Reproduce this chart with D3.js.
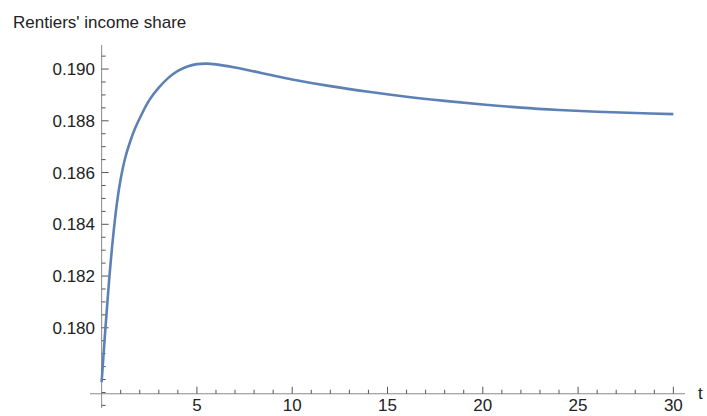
<!DOCTYPE html>
<html>
<head>
<meta charset="utf-8">
<script src="https://cdn.jsdelivr.net/npm/d3@7"></script>
<style>
  html, body { margin: 0; padding: 0; background: #fff; }
  svg { display: block; }
  text { font-family: "Liberation Sans", Arial, sans-serif; }
</style>
</head>
<body>
<svg id="chart" width="707" height="416"></svg>
<script>
// Data
const tValues = [0, 0.2, 0.4, 0.6, 0.8, 1.0, 1.25, 1.5, 1.75, 2.0, 2.5, 3.0, 3.5, 4.0, 4.5, 5.0, 5.5, 6.0, 7.0, 8.0, 9.0, 10, 12, 14, 16, 18, 20, 22, 24, 26, 28, 30];
const shareValues = [0.1779, 0.1800, 0.1819, 0.1835, 0.1848, 0.18575, 0.1866, 0.1872, 0.1877, 0.1881, 0.1888, 0.18928, 0.18966, 0.18993, 0.19010, 0.19019, 0.19021, 0.19018, 0.19006, 0.18991, 0.18975, 0.18960, 0.18934, 0.18912, 0.18893, 0.18877, 0.18863, 0.18851, 0.18842, 0.18835, 0.18830, 0.18826];
const xMajorTicks = [5, 10, 15, 20, 25, 30];
const xMinorTicks = d3.range(1, 31).filter(d => d % 5 !== 0);
const yMajorTicks = [0.180, 0.182, 0.184, 0.186, 0.188, 0.190];
const yMinorTicks = d3.range(0, 28).map(i => +(0.177 + i * 0.0005).toFixed(4)).filter(v => !yMajorTicks.some(m => Math.abs(m - v) < 1e-9) && v <= 0.1905);
const yTitle = "Rentiers' income share";
const xTitle = "t";

const data = tValues.map((t, i) => ({ t, v: shareValues[i] }));

const svg = d3.select("#chart");

const x = d3.scaleLinear().domain([-0.61, 30.61]).range([90, 685]);
const y = d3.scaleLinear().domain([0.1769, 0.19093]).range([408, 45]);
const axisY = 0.17745; // where the horizontal axis crosses

const axisColor = "#8a8a8a";
const tickColor = "#555";
const fs = 17;

// Horizontal axis line
svg.append("line")
  .attr("x1", x(-0.61)).attr("x2", x(30.61))
  .attr("y1", y(axisY)).attr("y2", y(axisY))
  .attr("stroke", axisColor).attr("stroke-width", 1);

// Vertical axis line
svg.append("line")
  .attr("x1", x(0)).attr("x2", x(0))
  .attr("y1", y(0.19093)).attr("y2", y(0.1769))
  .attr("stroke", axisColor).attr("stroke-width", 1);

// X ticks (pointing up)
svg.append("g").selectAll("line").data(xMajorTicks).join("line")
  .attr("x1", d => x(d)).attr("x2", d => x(d))
  .attr("y1", y(axisY)).attr("y2", y(axisY) - 7)
  .attr("stroke", tickColor).attr("stroke-width", 1);
svg.append("g").selectAll("line").data(xMinorTicks).join("line")
  .attr("x1", d => x(d)).attr("x2", d => x(d))
  .attr("y1", y(axisY)).attr("y2", y(axisY) - 4)
  .attr("stroke", tickColor).attr("stroke-width", 1);

// X tick labels
svg.append("g").selectAll("text").data(xMajorTicks).join("text")
  .attr("x", d => x(d)).attr("y", 411)
  .attr("text-anchor", "middle")
  .attr("font-size", fs).attr("fill", "#222")
  .text(d => d);

// Y ticks (pointing right)
svg.append("g").selectAll("line").data(yMajorTicks).join("line")
  .attr("x1", x(0)).attr("x2", x(0) + 7)
  .attr("y1", d => y(d)).attr("y2", d => y(d))
  .attr("stroke", tickColor).attr("stroke-width", 1);
svg.append("g").selectAll("line").data(yMinorTicks).join("line")
  .attr("x1", x(0)).attr("x2", x(0) + 4)
  .attr("y1", d => y(d)).attr("y2", d => y(d))
  .attr("stroke", tickColor).attr("stroke-width", 1);

// Y tick labels
svg.append("g").selectAll("text").data(yMajorTicks).join("text")
  .attr("x", 95).attr("y", d => y(d))
  .attr("dy", "0.35em")
  .attr("text-anchor", "end")
  .attr("font-size", fs).attr("fill", "#222")
  .text(d => d3.format(".3f")(d));

// Axis titles
svg.append("text")
  .attr("x", 13).attr("y", 28)
  .attr("font-size", fs).attr("fill", "#222")
  .text(yTitle);
svg.append("text")
  .attr("x", 698).attr("y", 399)
  .attr("font-size", fs).attr("fill", "#222")
  .text(xTitle);

// Curve
const line = d3.line()
  .x(d => x(d.t))
  .y(d => y(d.v))
  .curve(d3.curveCatmullRom.alpha(0.5));

svg.append("path")
  .datum(data)
  .attr("d", line)
  .attr("fill", "none")
  .attr("stroke", "#5E81B5")
  .attr("stroke-width", 2.6)
  .attr("stroke-linejoin", "round");
</script>
</body>
</html>
